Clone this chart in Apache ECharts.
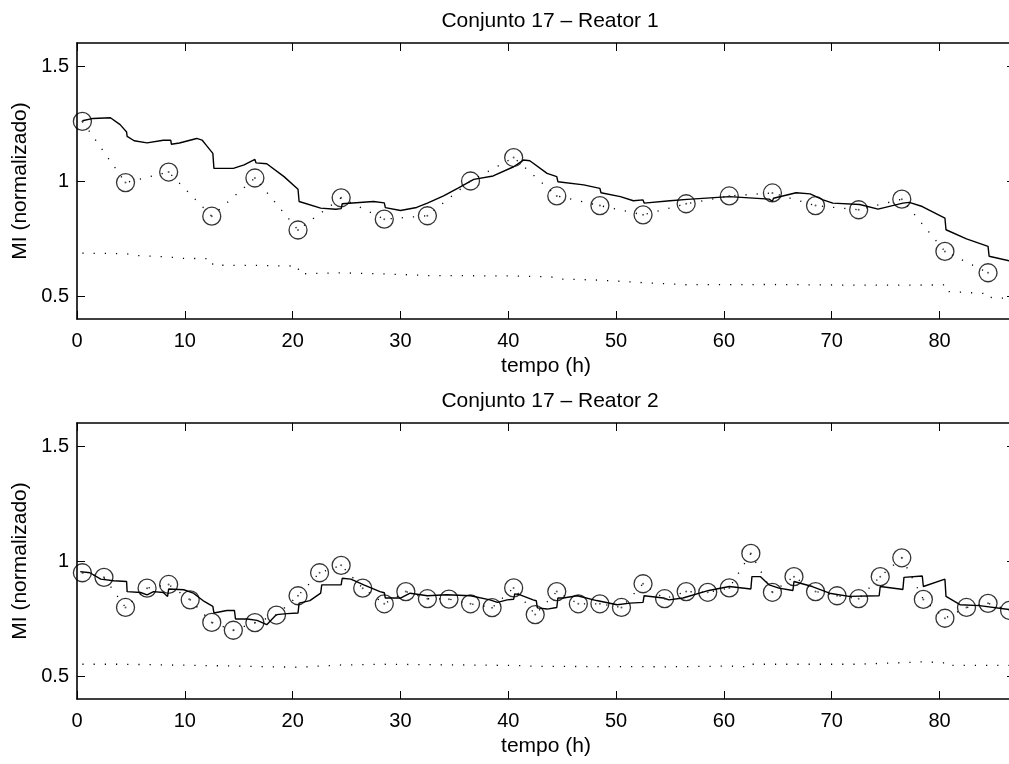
<!DOCTYPE html>
<html>
<head>
<meta charset="utf-8">
<title>Conjunto 17</title>
<script src="https://cdn.jsdelivr.net/npm/echarts@6.0.0/dist/echarts.min.js"></script>
<style>
html, body { margin: 0; padding: 0; background: #fff; overflow: hidden; }
#main { width: 1009px; height: 764px; }
</style>
</head>
<body>
<div id="main"></div>
<script>
// eixos
var tempoTicks = [0, 10, 20, 30, 40, 50, 60, 70, 80]
var miTicks = [0.5, 1, 1.5]

// Reator 1 - medidas (circulos)
var r1MedT = [0.5, 4.5, 8.5, 12.5, 16.5, 20.5, 24.5, 28.5, 32.5, 36.5, 40.5, 44.5, 48.5, 52.5, 56.5, 60.5, 64.5, 68.5, 72.5, 76.5, 80.5, 84.5]
var r1MedY = [1.259, 0.993, 1.039, 0.847, 1.013, 0.787, 0.927, 0.834, 0.849, 1.000, 1.102, 0.935, 0.893, 0.853, 0.901, 0.935, 0.948, 0.893, 0.875, 0.921, 0.694, 0.601]

// Reator 1 - estimativa (linha cheia)
var r1EstT = [0.5, 1.5, 3.1, 4.0, 4.6, 4.65, 5.3, 6.5, 8.0, 8.7, 8.75, 9.5, 11.1, 11.6, 12.0, 12.6, 12.7, 14.5, 15.5, 16.5, 16.6, 17.6, 19.2, 20.5, 20.6, 22.6, 24.0, 24.5, 24.6, 27.5, 28.5, 28.6, 30.0, 31.5, 32.5, 32.6, 34.0, 35.3, 36.8, 38.6, 40.5, 41.4, 42.0, 43.6, 44.5, 44.6, 47.0, 48.5, 48.6, 50.4, 51.6, 52.5, 52.6, 55.0, 56.6, 60.5, 64.2, 64.5, 64.6, 66.7, 68.0, 69.2, 70.1, 72.6, 74.3, 76.6, 77.2, 78.4, 80.5, 80.6, 82.5, 84.5, 84.6, 86.9]
var r1EstY = [1.262, 1.272, 1.275, 1.245, 1.213, 1.194, 1.175, 1.166, 1.177, 1.177, 1.160, 1.165, 1.185, 1.178, 1.155, 1.120, 1.055, 1.055, 1.070, 1.094, 1.079, 1.075, 1.019, 0.964, 0.911, 0.882, 0.877, 0.880, 0.901, 0.911, 0.905, 0.884, 0.872, 0.885, 0.904, 0.898, 0.935, 0.968, 1.007, 1.022, 1.062, 1.091, 1.088, 1.033, 1.019, 0.997, 0.983, 0.968, 0.949, 0.932, 0.914, 0.918, 0.904, 0.914, 0.920, 0.932, 0.921, 0.912, 0.925, 0.949, 0.944, 0.918, 0.904, 0.898, 0.878, 0.904, 0.907, 0.889, 0.839, 0.788, 0.748, 0.716, 0.673, 0.648]

// Reator 1 - linha pontilhada inferior
var r1BaixoT = [0.5, 4.5, 5.5, 8.5, 9.5, 12.5, 12.6, 16.5, 20.5, 20.6, 24.5, 28.5, 32.5, 40.5, 44.0, 44.6, 48.5, 48.6, 52.5, 52.6, 56.5, 64.5, 72.5, 80.5, 80.6, 84.5, 84.6, 87]
var r1BaixoY = [0.686, 0.684, 0.676, 0.670, 0.664, 0.662, 0.634, 0.633, 0.630, 0.596, 0.601, 0.596, 0.589, 0.587, 0.583, 0.574, 0.569, 0.561, 0.558, 0.551, 0.549, 0.550, 0.547, 0.548, 0.520, 0.510, 0.494, 0.488]

// Reator 2 - medidas (circulos)
var r2MedT = [0.5, 2.5, 4.5, 6.5, 8.5, 10.5, 12.5, 14.5, 16.5, 18.5, 20.5, 22.5, 24.5, 26.5, 28.5, 30.5, 32.5, 34.5, 36.5, 38.5, 40.5, 42.5, 44.5, 46.5, 48.5, 50.5, 52.5, 54.5, 56.5, 58.5, 60.5, 62.5, 64.5, 66.5, 68.5, 70.5, 72.5, 74.5, 76.5, 78.5, 80.5, 82.5, 84.5, 86.5]
var r2MedY = [0.949, 0.929, 0.798, 0.882, 0.898, 0.831, 0.733, 0.699, 0.732, 0.765, 0.849, 0.949, 0.981, 0.882, 0.814, 0.867, 0.836, 0.834, 0.814, 0.797, 0.883, 0.767, 0.867, 0.814, 0.814, 0.798, 0.901, 0.836, 0.867, 0.864, 0.883, 1.033, 0.864, 0.932, 0.867, 0.849, 0.836, 0.932, 1.014, 0.833, 0.751, 0.798, 0.816, 0.785]

// Reator 2 - estimativa (linha cheia)
var r2EstT = [0.3, 1.2, 2.2, 3.4, 4.6, 4.65, 5.9, 6.5, 7.1, 8.0, 8.4, 8.5, 9.9, 10.8, 11.8, 12.6, 12.7, 13.9, 14.6, 14.7, 15.8, 16.7, 17.6, 18.5, 19.5, 20.5, 20.6, 21.6, 22.6, 22.7, 24.5, 24.6, 25.4, 26.6, 28.1, 28.5, 28.6, 30.0, 30.9, 32.5, 34.3, 36.5, 38.3, 39.0, 39.9, 40.5, 40.6, 41.1, 42.3, 42.6, 42.7, 43.6, 44.5, 44.6, 45.1, 46.4, 48.2, 50.1, 51.3, 52.5, 52.6, 54.4, 54.9, 56.2, 58.6, 60.5, 62.5, 62.6, 63.4, 64.2, 65.1, 66.4, 66.5, 68.2, 69.8, 71.6, 74.4, 74.5, 76.3, 76.6, 76.7, 78.4, 78.5, 80.5, 80.6, 81.9, 83.7, 86.9]
var r2EstY = [0.954, 0.949, 0.921, 0.914, 0.911, 0.867, 0.863, 0.853, 0.867, 0.863, 0.846, 0.878, 0.875, 0.860, 0.824, 0.803, 0.774, 0.785, 0.785, 0.748, 0.748, 0.742, 0.723, 0.767, 0.771, 0.774, 0.817, 0.828, 0.860, 0.896, 0.896, 0.925, 0.921, 0.896, 0.867, 0.862, 0.839, 0.839, 0.860, 0.849, 0.853, 0.849, 0.831, 0.820, 0.831, 0.834, 0.857, 0.853, 0.831, 0.827, 0.796, 0.791, 0.798, 0.839, 0.839, 0.849, 0.828, 0.810, 0.817, 0.820, 0.849, 0.839, 0.831, 0.839, 0.872, 0.889, 0.878, 0.932, 0.932, 0.896, 0.882, 0.872, 0.911, 0.889, 0.860, 0.846, 0.849, 0.889, 0.878, 0.876, 0.929, 0.935, 0.889, 0.921, 0.846, 0.810, 0.806, 0.786]

// Reator 2 - linha pontilhada inferior
var r2BaixoT = [0.5, 4.5, 4.6, 12.5, 12.6, 20.5, 20.6, 24.5, 24.6, 28.5, 28.6, 40.5, 42.5, 54.5, 60.5, 62.5, 62.6, 72.5, 74.5, 76.5, 76.6, 78.5, 80.5, 80.6, 87]
var r2BaixoY = [0.551, 0.551, 0.546, 0.545, 0.540, 0.538, 0.545, 0.548, 0.551, 0.551, 0.547, 0.546, 0.542, 0.540, 0.543, 0.540, 0.551, 0.551, 0.555, 0.558, 0.565, 0.562, 0.557, 0.546, 0.546]

var fonte = "'Liberation Sans', Arial, Helvetica, sans-serif"

function pares (xs, ys) {
  return xs.map(function (x, i) { return [x, ys[i]] })
}

var myChart = echarts.init(document.getElementById('main'), null, { renderer: 'canvas' })

// a area do grafico passa um pouco da borda direita da figura
var grids = [
  { left: 77, top: 43, width: 938, height: 276, outerBoundsMode: 'none' },
  { left: 77, top: 423, width: 938, height: 276, outerBoundsMode: 'none' }
]
var titulos = ['Conjunto 17 \u2013 Reator 1', 'Conjunto 17 \u2013 Reator 2']
var dados = [
  { med: pares(r1MedT, r1MedY), est: pares(r1EstT, r1EstY), baixo: pares(r1BaixoT, r1BaixoY) },
  { med: pares(r2MedT, r2MedY), est: pares(r2EstT, r2EstY), baixo: pares(r2BaixoT, r2BaixoY) }
]

var linhaEixo = { show: true, onZero: false, lineStyle: { color: '#000', width: 1.6 } }
var tickDentro = { show: true, inside: true, length: 8, lineStyle: { color: '#000', width: 1 } }

var xAxis = []
var yAxis = []
var series = []
var title = []

grids.forEach(function (g, i) {
  title.push({
    text: titulos[i],
    left: 545,
    top: g.top - 37,
    textAlign: 'center',
    textStyle: { fontFamily: fonte, fontSize: 21, fontWeight: 'normal', color: '#000' }
  })
  // eixo de baixo
  xAxis.push({
    gridIndex: i, type: 'value', position: 'bottom', min: 0, max: 87, interval: 10,
    axisLine: linhaEixo, axisTick: Object.assign({ customValues: tempoTicks }, tickDentro),
    splitLine: { show: false },
    axisLabel: { color: '#000', fontSize: 20, fontFamily: fonte, margin: 12, customValues: tempoTicks },
    name: 'tempo (h)', nameLocation: 'middle', nameGap: 37,
    nameTextStyle: { color: '#000', fontSize: 21, fontFamily: fonte }
  })
  // eixo de cima (so ticks)
  xAxis.push({
    gridIndex: i, type: 'value', position: 'top', min: 0, max: 87, interval: 10,
    axisLine: linhaEixo, axisTick: Object.assign({ customValues: tempoTicks }, tickDentro),
    splitLine: { show: false },
    axisLabel: { show: false }
  })
  yAxis.push({
    gridIndex: i, type: 'value', position: 'left', min: 0.4, max: 1.6,
    axisLine: linhaEixo, splitLine: { show: false },
    axisTick: Object.assign({ customValues: miTicks }, tickDentro),
    axisLabel: { color: '#000', fontSize: 20, fontFamily: fonte, margin: 8, customValues: miTicks },
    name: 'MI (normalizado)', nameLocation: 'middle', nameGap: 42,
    nameTextStyle: { color: '#000', fontSize: 21, fontFamily: fonte }
  })
  // eixo da direita: a linha fica fora da figura, so os ticks aparecem
  yAxis.push({
    gridIndex: i, type: 'value', position: 'right', min: 0.4, max: 1.6,
    axisLine: { show: false, onZero: false }, splitLine: { show: false },
    axisTick: Object.assign({ customValues: miTicks }, tickDentro),
    axisLabel: { show: false }
  })

  var xi = 2 * i
  var d = dados[i]
  series.push({
    type: 'line', xAxisIndex: xi, yAxisIndex: xi, data: d.est,
    symbol: 'none', lineStyle: { color: '#000', width: 1.4 }, z: 3
  })
  series.push({
    type: 'line', xAxisIndex: xi, yAxisIndex: xi, data: d.med,
    symbol: 'none', lineStyle: { color: '#000', width: 1.3, type: [1.2, 10] }, z: 2
  })
  series.push({
    type: 'line', xAxisIndex: xi, yAxisIndex: xi, data: d.baixo,
    symbol: 'none', lineStyle: { color: '#000', width: 1.3, type: [1.2, 10] }, z: 2
  })
  series.push({
    type: 'scatter', xAxisIndex: xi, yAxisIndex: xi, data: d.med,
    symbol: 'circle', symbolSize: 18,
    itemStyle: { color: 'rgba(0,0,0,0)', borderColor: '#000', borderWidth: 1.3 }, z: 4
  })
  series.push({
    type: 'scatter', xAxisIndex: xi, yAxisIndex: xi, data: d.med,
    symbol: 'circle', symbolSize: 2, itemStyle: { color: '#333' }, z: 4
  })
})

var option = {
  animation: false,
  backgroundColor: '#fff',
  title: title,
  grid: grids,
  xAxis: xAxis,
  yAxis: yAxis,
  series: series
}
myChart.setOption(option)
</script>
</body>
</html>
